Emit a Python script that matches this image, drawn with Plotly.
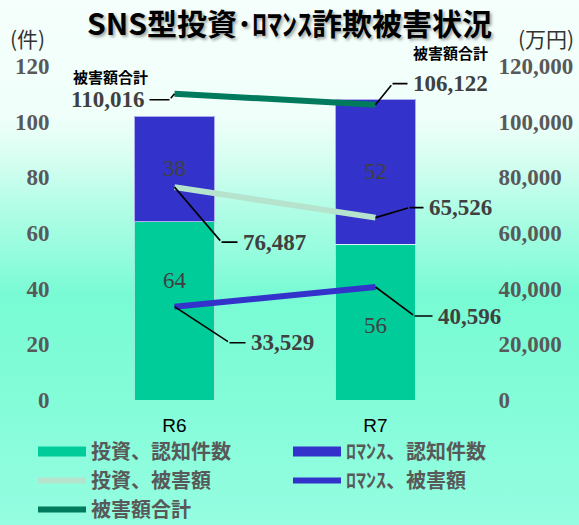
import base64
import plotly.graph_objects as go

# ---------------- data ----------------
categories = ["R6", "R7"]
invest_count = [64, 56]          # 投資、認知件数 (件)
romance_count = [38, 52]         # ﾛﾏﾝｽ、認知件数 (件)
invest_damage = [76487, 65526]   # 投資、被害額 (万円)
romance_damage = [33529, 40596]  # ﾛﾏﾝｽ、被害額 (万円)
total_damage = [110016, 106122]  # 被害額合計 (万円)

left_ticks = [0, 20, 40, 60, 80, 100, 120]
right_ticks = [0, 20000, 40000, 60000, 80000, 100000, 120000]

title_text = "SNS型投資･ﾛﾏﾝｽ詐欺被害状況"
names = ["投資、認知件数", "ﾛﾏﾝｽ、認知件数", "投資、被害額", "ﾛﾏﾝｽ、被害額", "被害額合計"]

# ---------------- style ----------------
GREEN = "#00CC99"
BLUE = "#3333CC"
PALE = "#B5E3CE"
DARK = "#007A5C"
SERIF = "Liberation Serif"
JP = "Noto Sans CJK JP"

W, H = 579, 525
ML, MR, MT, MB = 74, 103, 66, 125
PW, PH = W - ML - MR, H - MT - MB

# background gradient as inline svg
stops = [(0.0, "#f5fffc"), (0.22, "#f0fffa"), (0.30, "#d8fef2"), (0.40, "#b0fde5"),
         (0.50, "#8ffcdb"), (0.56, "#78fbd4"), (0.70, "#7ffcd6"), (1.0, "#95fde1")]
svg = ("<svg xmlns='http://www.w3.org/2000/svg' width='%d' height='%d' preserveAspectRatio='none'>"
       "<defs><linearGradient id='g' x1='0' y1='0' x2='0' y2='1'>" % (W, H)
       + "".join("<stop offset='%s' stop-color='%s'/>" % (o, c) for o, c in stops)
       + "</linearGradient></defs><rect width='100%' height='100%' fill='url(#g)'/></svg>")
bg_src = "data:image/svg+xml;base64," + base64.b64encode(svg.encode()).decode()

fig = go.Figure()

bar_line = dict(color="rgba(255,255,255,0.6)", width=1)
fig.add_trace(go.Bar(x=categories, y=invest_count, name=names[0], marker=dict(color=GREEN, line=bar_line),
                     showlegend=False, width=0.4))
fig.add_trace(go.Bar(x=categories, y=romance_count, name=names[1], marker=dict(color=BLUE, line=bar_line),
                     showlegend=False, width=0.4))

# legend stand-ins for bars (wide rectangles); left column = legend, right column = legend2
fig.add_trace(go.Scatter(x=[None], y=[None], mode="lines", name=names[0], legend="legend",
                         line=dict(color=GREEN, width=12)))
fig.add_trace(go.Scatter(x=[None], y=[None], mode="lines", name=names[1], legend="legend2",
                         line=dict(color=BLUE, width=12)))

fig.add_trace(go.Scatter(x=categories, y=invest_damage, name=names[2], mode="lines", yaxis="y2",
                         legend="legend", line=dict(color=PALE, width=6)))
fig.add_trace(go.Scatter(x=categories, y=romance_damage, name=names[3], mode="lines", yaxis="y2",
                         legend="legend2", line=dict(color=BLUE, width=6)))
fig.add_trace(go.Scatter(x=categories, y=total_damage, name=names[4], mode="lines", yaxis="y2",
                         legend="legend", line=dict(color=DARK, width=6)))

anns = []
# bar segment labels (drawn on top of the lines, as in the original)
bar_font = dict(family=SERIF, size=23, color="#404040")
invest_label_shift = [30, -3]   # pixel nudges of the 投資 labels, as placed in the original
for i, c in enumerate(categories):
    anns.append(dict(x=c, y=invest_count[i] / 2, xref="x", yref="y", text=str(invest_count[i]),
                     showarrow=False, font=bar_font, yshift=invest_label_shift[i]))
    anns.append(dict(x=c, y=invest_count[i] + romance_count[i] / 2, xref="x", yref="y",
                     text=str(romance_count[i]), showarrow=False, font=bar_font))

# value callouts with elbow leader lines: (series, index, elbow dx, elbow dy, text dx)
callouts = [
    (total_damage, 0, -5, 6, -62),
    (total_damage, 1, 17, -21, 58),
    (invest_damage, 0, 47, 55, 53),
    (invest_damage, 1, 34, -10, 51),
    (romance_damage, 0, 55, 36, 53),
    (romance_damage, 1, 39, 29, 55),
]
for series, i, ex, ey, tx in callouts:
    v = series[i]
    anns.append(dict(x=categories[i], y=v, xref="x", yref="y2", text="", showarrow=True,
                     ax=ex, ay=ey, arrowhead=0, arrowwidth=1.6, arrowcolor="black", standoff=0))
    anns.append(dict(x=categories[i], y=v, xref="x", yref="y2", text=f"{v:,}", showarrow=True,
                     xshift=ex, yshift=-ey, ax=tx, ay=0, arrowhead=0, arrowwidth=1.6,
                     arrowcolor="black", standoff=0, borderpad=5,
                     font=dict(family=SERIF, size=23, color="#404040", weight="bold")))
# 被害額合計 captions
for i, (sx, sy) in enumerate([(-64, 17), (75, 52)]):
    anns.append(dict(x=categories[i], y=total_damage[i], xref="x", yref="y2", text="被害額合計",
                     showarrow=False, xshift=sx, yshift=sy,
                     font=dict(family=JP, size=15, color="black", weight="bold")))
# axis unit titles
for txt, px in [("(件)", 27), ("(万円)", 546)]:
    anns.append(dict(x=(px - ML) / PW, y=(H - 38 - MB) / PH, xref="paper", yref="paper", text=txt,
                     showarrow=False, xanchor="center", yanchor="middle",
                     font=dict(family=JP, size=21, color="#333333")))

tickfont = dict(family=SERIF, size=23, color="#595959", weight="bold")
legend_common = dict(orientation="v", xanchor="left", y=(H - MB - 432) / PH, yanchor="top",
                     itemwidth=48, traceorder="normal", tracegroupgap=0,
                     bgcolor="rgba(0,0,0,0)",
                     font=dict(family=JP, size=20, color="#595959", weight="bold"))
fig.update_layout(
    width=W, height=H,
    margin=dict(l=ML, r=MR, t=MT, b=MB, autoexpand=False),
    paper_bgcolor="#c8fdec", plot_bgcolor="rgba(0,0,0,0)",
    barmode="stack",
    title=dict(text=title_text, x=0.5, xref="container", xanchor="center",
               y=1 - 24 / H, yref="container", yanchor="middle",
               font=dict(family=JP, size=30, color="black", weight="bold",
                         shadow="2px 2px 3px rgba(0,0,0,0.35)")),
    xaxis=dict(range=[-0.5, 1.5], showgrid=False, zeroline=False, showline=False,
               ticks="outside", ticklen=8, tickcolor="rgba(0,0,0,0)",
               tickfont=dict(family="Liberation Sans", size=19, color="black")),
    yaxis=dict(range=[0, 120], tickvals=left_ticks, showgrid=False, zeroline=False, showline=False,
               ticks="outside", ticklen=19, tickcolor="rgba(0,0,0,0)", tickfont=tickfont),
    yaxis2=dict(range=[0, 120000], tickvals=right_ticks, tickformat=",", overlaying="y", side="right",
                showgrid=False, zeroline=False, showline=False,
                ticks="outside", ticklen=17, tickcolor="rgba(0,0,0,0)", tickfont=tickfont),
    legend=dict(x=(33 - ML) / PW, **legend_common),
    legend2=dict(x=(288 - ML) / PW, **legend_common),
    annotations=anns,
    images=[dict(source=bg_src, xref="paper", yref="paper", x=-ML / PW, y=1 + MT / PH,
                 sizex=W / PW, sizey=H / PH, xanchor="left", yanchor="top",
                 sizing="stretch", layer="below")],
)

fig.write_html("out.html", config={"displayModeBar": False},
               post_script="document.body.style.margin='0';")
